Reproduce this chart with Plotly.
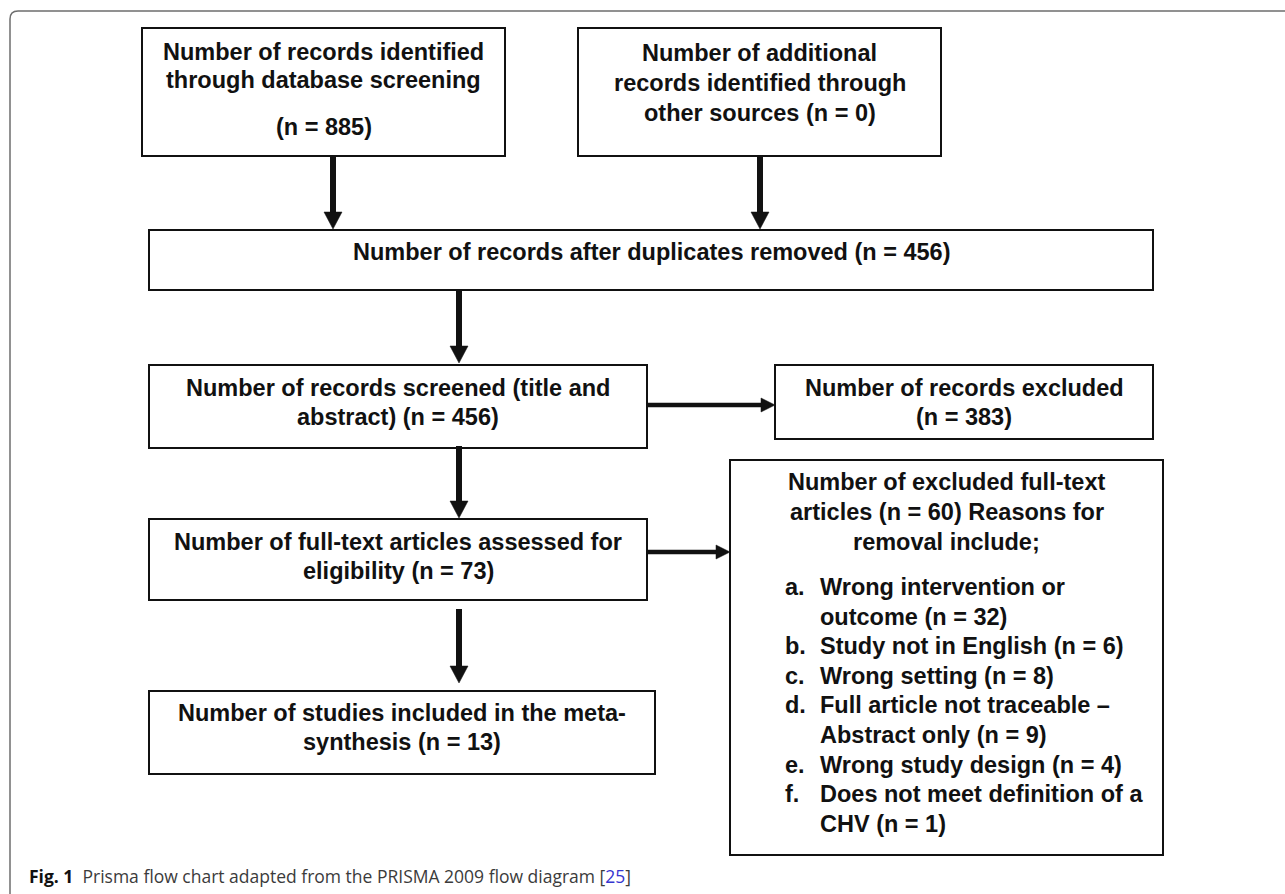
import plotly.graph_objects as go

# ---------------- data ----------------
n_database = 885
n_other_sources = 0
n_after_duplicates = 456
n_screened = 456
n_excluded = 383
n_fulltext = 73
n_fulltext_excluded = 60
n_included = 13

reason_letters = ["a.", "b.", "c.", "d.", "e.", "f."]
reason_lines = [
    ["Wrong intervention or", "outcome"],
    ["Study not in English"],
    ["Wrong setting"],
    ["Full article not traceable \u2013", "Abstract only"],
    ["Wrong study design"],
    ["Does not meet definition of a", "CHV"],
]
reason_counts = [32, 6, 8, 9, 4, 1]

caption_label = "Fig. 1"
caption_text = "Prisma flow chart adapted from the PRISMA 2009 flow diagram"
caption_ref = "25"

# ---------------- text per box (line-wrapped as in the figure) ----------------
box_texts = {
    "db": ["Number of records identified", "through database screening", f"(n = {n_database})"],
    "other": ["Number of additional", "records identified through", f"other sources (n = {n_other_sources})"],
    "dup": [f"Number of records after duplicates removed (n = {n_after_duplicates})"],
    "screen": ["Number of records screened (title and", f"abstract) (n = {n_screened})"],
    "excl": ["Number of records excluded", f"(n = {n_excluded})"],
    "full": ["Number of full-text articles assessed for", f"eligibility (n = {n_fulltext})"],
    "fullexcl": ["Number of excluded full-text", f"articles (n = {n_fulltext_excluded}) Reasons for",
                 "removal include;"],
    "incl": ["Number of studies included in the meta-", f"synthesis (n = {n_included})"],
}

# ---------------- layout geometry (pixels) ----------------
W, H = 1285, 894
box_geom = {            # x0, y0, x1, y1
    "db": (142, 28, 505, 156),
    "other": (578, 28, 941, 156),
    "dup": (149, 230, 1153, 290),
    "screen": (149, 365, 647, 448),
    "excl": (775, 365, 1153, 439),
    "full": (149, 519, 647, 600),
    "fullexcl": (730, 460, 1163, 855),
    "incl": (149, 691, 655, 774),
}
text_y = {
    "db": [52, 80, 127],
    "other": [53, 83, 113],
    "dup": [252],
    "screen": [388, 417],
    "excl": [388, 417],
    "full": [542, 571],
    "fullexcl": [482, 512, 542],
    "incl": [713, 742],
}
list_y0 = 587
list_dy = 29.6
list_label_x = 783
list_text_x = 818

FONT = "Liberation Sans, Arial, Helvetica, sans-serif"
FS = 23.5
INK = "#111111"

fig = go.Figure()
fig.add_trace(go.Scatter(x=[0], y=[0], mode="markers", marker=dict(opacity=0),
                         hoverinfo="skip", showlegend=False))

shapes = []
annotations = []

# outer frame (rounded top-left corner)
shapes.append(dict(type="path", xref="x", yref="y",
                   path="M 1290,11 L 18,11 Q 10,11 10,19 L 10,900",
                   line=dict(color="#6e6e6e", width=1.5)))

for key, (x0, y0, x1, y1) in box_geom.items():
    shapes.append(dict(type="rect", xref="x", yref="y", x0=x0, y0=y0, x1=x1, y1=y1,
                       line=dict(color=INK, width=2), fillcolor="rgba(0,0,0,0)"))
    cx = (x0 + x1) / 2
    for line, yy in zip(box_texts[key], text_y[key]):
        annotations.append(dict(x=cx, y=yy, xref="x", yref="y", text=f"<b>{line}</b>",
                                showarrow=False, xanchor="center", yanchor="middle",
                                font=dict(family=FONT, size=FS, color=INK)))

# list of exclusion reasons
row = 0
for letter, lines, cnt in zip(reason_letters, reason_lines, reason_counts):
    y = list_y0 + row * list_dy
    annotations.append(dict(x=list_label_x, y=y, xref="x", yref="y", text=f"<b>{letter}</b>",
                            showarrow=False, xanchor="left", yanchor="middle",
                            font=dict(family=FONT, size=FS, color=INK)))
    for i, ln in enumerate(lines):
        txt = ln + (f" (n = {cnt})" if i == len(lines) - 1 else "")
        annotations.append(dict(x=list_text_x, y=list_y0 + row * list_dy, xref="x", yref="y",
                                text=f"<b>{txt}</b>", showarrow=False, xanchor="left",
                                yanchor="middle", font=dict(family=FONT, size=FS, color=INK)))
        row += 1


def arrow_down(x, y0, y1, w=6, hw=18, hl=17):
    shapes.append(dict(type="line", xref="x", yref="y", x0=x, x1=x, y0=y0, y1=y1 - hl + 1,
                       line=dict(color=INK, width=w)))
    shapes.append(dict(type="path", xref="x", yref="y",
                       path=f"M {x - hw / 2},{y1 - hl} L {x + hw / 2},{y1 - hl} L {x},{y1} Z",
                       fillcolor=INK, line=dict(color=INK, width=0.5)))


def arrow_right(y, x0, x1, w=4.5, hw=14, hl=14):
    shapes.append(dict(type="line", xref="x", yref="y", x0=x0, x1=x1 - hl + 1, y0=y, y1=y,
                       line=dict(color=INK, width=w)))
    shapes.append(dict(type="path", xref="x", yref="y",
                       path=f"M {x1 - hl},{y - hw / 2} L {x1 - hl},{y + hw / 2} L {x1},{y} Z",
                       fillcolor=INK, line=dict(color=INK, width=0.5)))


arrow_down(333, 156, 229)
arrow_down(760, 156, 229)
arrow_down(459, 290, 363)
arrow_down(459, 446, 518)
arrow_down(459, 609, 683)
arrow_right(405, 647, 775)
arrow_right(552, 647, 730)

# caption
annotations.append(dict(
    x=27, y=876, xref="x", yref="y", xanchor="left", yanchor="middle", showarrow=False,
    text=(f"<b>{caption_label}</b>  <span style='color:#3b3b3b'>{caption_text} [</span>"
          f"<span style='color:#3535d0'>{caption_ref}</span>"
          f"<span style='color:#3b3b3b'>]</span>"),
    font=dict(family="Open Sans, Noto Sans, sans-serif", size=17.5, color="#111111")))

fig.update_layout(
    width=W, height=H, margin=dict(l=0, r=0, t=0, b=0),
    paper_bgcolor="white", plot_bgcolor="white",
    xaxis=dict(range=[0, W], visible=False, fixedrange=True),
    yaxis=dict(range=[H, 0], visible=False, fixedrange=True),
    shapes=shapes, annotations=annotations, showlegend=False,
)

fig.write_html("out.html", config={"displayModeBar": False},
               post_script="document.body.style.margin='0';")
